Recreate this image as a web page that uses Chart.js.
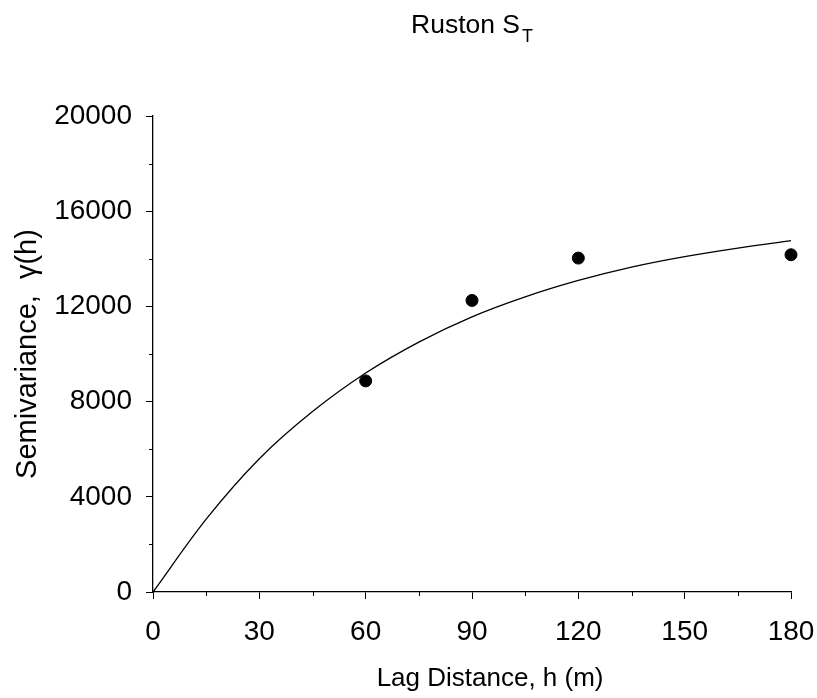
<!DOCTYPE html>
<html>
<head>
<meta charset="utf-8">
<script src="https://cdn.jsdelivr.net/npm/chart.js@4/dist/chart.umd.min.js"></script>
<style>
  html, body { margin: 0; padding: 0; background: #fff; }
  #wrap { width: 817px; height: 698px; }
</style>
</head>
<body>
<div id="wrap"><canvas id="chart" width="817" height="698"></canvas></div>
<script>
// observed semivariance at each lag distance
const lagDistances = [60, 90, 120, 180];
const semivariance = [8870, 12250, 14030, 14170];

// fitted model curve, every 15 m
const modelLags = [0, 15, 30, 45, 60, 75, 90, 105, 120, 135, 150, 165, 180];
const modelValues = [0, 3060, 5600, 7580, 9200, 10500, 11560, 12400, 13090, 13650, 14090, 14450, 14760];

const xMinorTicks = [15, 45, 75, 105, 135, 165];
const yMinorTicks = [2000, 6000, 10000, 14000, 18000];

const fontFamily = '"Liberation Sans", Arial, sans-serif';

// title with a subscript, and the short minor tick marks
const extrasPlugin = {
  id: 'extras',
  afterDraw: function (chart) {
    const ctx = chart.ctx;
    const area = chart.chartArea;
    const xs = chart.scales.x;
    const ys = chart.scales.y;
    ctx.save();
    ctx.strokeStyle = '#000';
    ctx.lineWidth = 1;
    xMinorTicks.forEach(function (v) {
      const px = Math.round(xs.getPixelForValue(v)) + 0.5;
      ctx.beginPath();
      ctx.moveTo(px, area.bottom);
      ctx.lineTo(px, area.bottom + 4);
      ctx.stroke();
    });
    yMinorTicks.forEach(function (v) {
      const py = Math.round(ys.getPixelForValue(v)) + 0.5;
      ctx.beginPath();
      ctx.moveTo(area.left - 4, py);
      ctx.lineTo(area.left, py);
      ctx.stroke();
    });

    // title "Ruston S" with subscript T
    ctx.fillStyle = '#000';
    ctx.textBaseline = 'alphabetic';
    ctx.textAlign = 'left';
    ctx.font = '26.5px ' + fontFamily;
    const main = 'Ruston S';
    const mainW = ctx.measureText(main).width;
    ctx.font = '18px ' + fontFamily;
    const subW = ctx.measureText('T').width;
    const cx = (area.left + area.right) / 2;
    const startX = cx - (mainW + subW + 2) / 2;
    ctx.font = '26.5px ' + fontFamily;
    ctx.fillText(main, startX, 33);
    ctx.font = '18px ' + fontFamily;
    ctx.fillText('T', startX + mainW + 2, 42);
    ctx.restore();
  }
};

const scatterPoints = lagDistances.map(function (x, i) {
  return { x: x, y: semivariance[i] };
});
const modelPoints = modelLags.map(function (x, i) {
  return { x: x, y: modelValues[i] };
});

function plainTick(value) {
  return String(value);
}

new Chart(document.getElementById('chart'), {
  type: 'scatter',
  data: {
    datasets: [
      {
        label: 'Model',
        type: 'line',
        data: modelPoints,
        borderColor: '#000',
        borderWidth: 1.3,
        pointRadius: 0,
        fill: false,
        cubicInterpolationMode: 'monotone',
        clip: false
      },
      {
        label: 'Observed',
        data: scatterPoints,
        backgroundColor: '#000',
        borderColor: '#000',
        pointRadius: 6,
        pointHoverRadius: 6,
        clip: false
      }
    ]
  },
  plugins: [extrasPlugin],
  options: {
    responsive: false,
    animation: false,
    events: [],
    layout: {
      padding: { top: 116, right: 26, left: 0, bottom: 0 }
    },
    plugins: {
      legend: { display: false },
      tooltip: { enabled: false },
      title: { display: false }
    },
    scales: {
      x: {
        type: 'linear',
        min: 0,
        max: 180,
        afterFit: function (axis) {
          axis.height = 106;
          axis.paddingLeft = 0;
          axis.paddingRight = 0;
        },
        ticks: {
          stepSize: 30,
          padding: 16,
          color: '#000',
          font: { family: fontFamily, size: 28 },
          callback: plainTick
        },
        grid: {
          drawOnChartArea: false,
          drawTicks: true,
          tickLength: 7,
          tickColor: '#000',
          tickWidth: 1
        },
        border: { display: true, color: '#000', width: 1.3 },
        title: {
          display: true,
          // leading spaces nudge the title right, as in the original
          text: '     Lag Distance, h (m)',
          color: '#000',
          font: { family: fontFamily, size: 26 },
          padding: { top: 0, bottom: 4 }
        }
      },
      y: {
        type: 'linear',
        min: 0,
        max: 20000,
        afterFit: function (axis) {
          axis.width = 153;
          axis.paddingTop = 0;
          axis.paddingBottom = 0;
        },
        ticks: {
          stepSize: 4000,
          padding: 14,
          color: '#000',
          font: { family: fontFamily, size: 28 },
          callback: plainTick
        },
        grid: {
          drawOnChartArea: false,
          drawTicks: true,
          tickLength: 7,
          tickColor: '#000',
          tickWidth: 1
        },
        border: { display: true, color: '#000', width: 1.3 },
        title: {
          display: true,
          text: 'Semivariance,  \u03b3(h)',
          color: '#000',
          font: { family: fontFamily, size: 29 },
          padding: { top: 11, bottom: 0 }
        }
      }
    }
  }
});
</script>
</body>
</html>
